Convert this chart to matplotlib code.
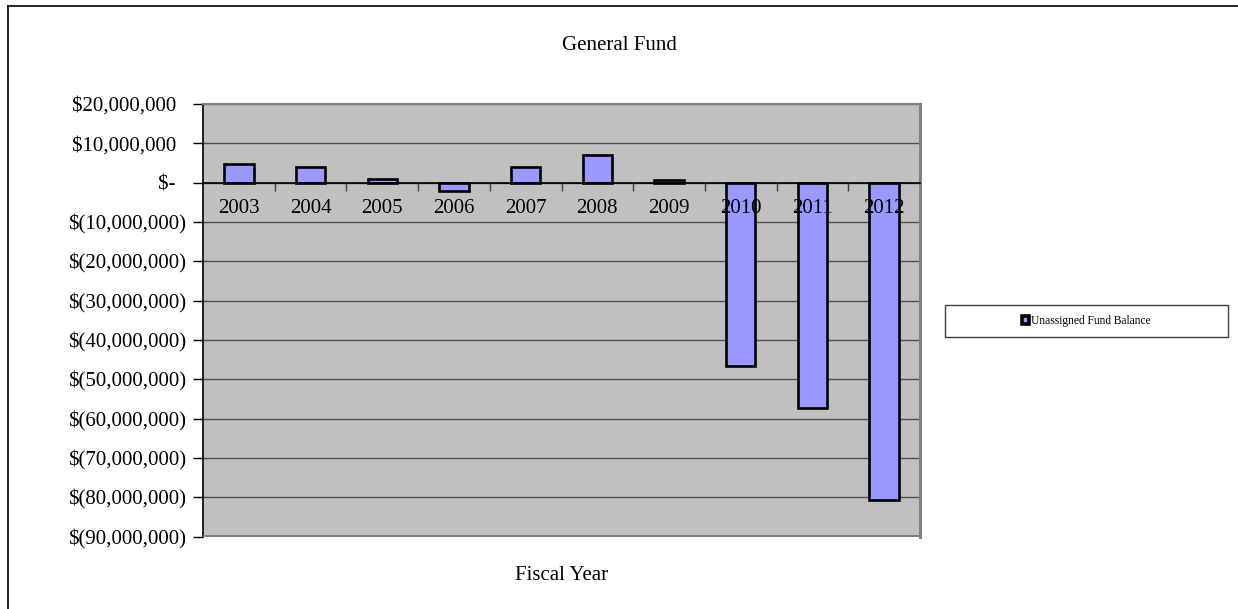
import matplotlib
matplotlib.use('Agg')
import matplotlib.pyplot as plt
from matplotlib.patches import Patch, Rectangle
from matplotlib.lines import Line2D
from matplotlib.ticker import FixedLocator, FuncFormatter

# data
years = ['2003', '2004', '2005', '2006', '2007', '2008', '2009', '2010', '2011', '2012']
balance = [4.8e6, 4.1e6, 0.8e6, -2.1e6, 4.0e6, 7.0e6, 0.6e6, -46.6e6, -57.3e6, -80.6e6]
yticks = [20e6, 10e6, 0, -10e6, -20e6, -30e6, -40e6, -50e6, -60e6, -70e6, -80e6, -90e6]

plt.rcParams['font.family'] = ['Liberation Serif', 'DejaVu Serif']

W, H = 1238, 609
fig = plt.figure(figsize=(W / 100, H / 100), dpi=100)
ax = fig.add_axes([203 / W, (H - 536.5) / H, (920 - 203) / W, (536.5 - 104) / H])
ax.set_facecolor('#C0C0C0')

x = range(len(years))
ax.bar(x, balance, width=0.41, color='#9999FF', edgecolor='black', linewidth=1.9, zorder=3)

ax.set_xlim(-0.5, len(years) - 0.5)
ax.set_ylim(-90e6, 20e6)

# gridlines
ax.set_yticks(yticks)
ax.yaxis.grid(True, color='#505050', linewidth=1.0, zorder=1)
ax.set_axisbelow(True)


def money(v, pos):
    if v == 0:
        return '$-  '
    if v < 0:
        return '$({:,.0f})'.format(-v)
    return '${:,.0f}  '.format(v)


ax.yaxis.set_major_formatter(FuncFormatter(money))
ax.tick_params(axis='y', labelsize=15, length=7, width=1, direction='out', pad=5)

# category axis sits on the zero line, labels drawn over the bars
ax.spines['bottom'].set_position(('data', 0))
ax.spines['bottom'].set_color('black')
ax.spines['bottom'].set_linewidth(1.2)
ax.spines['bottom'].set_zorder(4)
ax.xaxis.set_zorder(6)
ax.set_xticks(list(x))
ax.set_xticklabels(years)
ax.xaxis.set_minor_locator(FixedLocator([i + 0.5 for i in range(len(years) - 1)]))
ax.tick_params(axis='x', which='major', length=0, labelsize=15, pad=12)
ax.tick_params(axis='x', which='minor', length=6, width=1, direction='out', color='#404040')

ax.spines['left'].set_color('black')
ax.spines['left'].set_linewidth(1.2)
ax.spines['top'].set_color('#808080')
ax.spines['top'].set_linewidth(1.5)
ax.spines['right'].set_color('#808080')
ax.spines['right'].set_linewidth(2.2)
# bottom border of the plot area
ax.add_patch(Rectangle((0, 0), 1, 0.004, transform=ax.transAxes, facecolor='#808080',
                       edgecolor='none', clip_on=False, zorder=5))

fig.text(619 / W, 1 - 46 / H, 'General Fund', ha='center', va='center', fontsize=15)
fig.text(561.5 / W, 1 - 575 / H, 'Fiscal Year', ha='center', va='center', fontsize=15)

# legend with its own frame
lx0, ly0, lx1, ly1 = 945, 305, 1228, 337
fig.add_artist(Rectangle((lx0 / W, 1 - ly1 / H), (lx1 - lx0) / W, (ly1 - ly0) / H,
                         transform=fig.transFigure, facecolor='white',
                         edgecolor='#404040', linewidth=1.0))
handle = Patch(facecolor='#9999FF', edgecolor='black', linewidth=2.6)
fig.legend([handle], ['Unassigned Fund Balance'], loc='center',
           bbox_to_anchor=(lx0 / W, 1 - ly1 / H, (lx1 - lx0) / W, (ly1 - ly0) / H),
           frameon=False, fontsize=8.3, handlelength=0.6, handleheight=0.6,
           handletextpad=0.15, borderpad=0.2)

# outer chart frame (top and left edges are visible)
fig.add_artist(Line2D([8 / W, 1], [1 - 6 / H, 1 - 6 / H], transform=fig.transFigure,
                      color='black', linewidth=1.2))
fig.add_artist(Line2D([8 / W, 8 / W], [0, 1 - 6 / H], transform=fig.transFigure,
                      color='black', linewidth=1.2))

fig.savefig('out.png', dpi=100)
